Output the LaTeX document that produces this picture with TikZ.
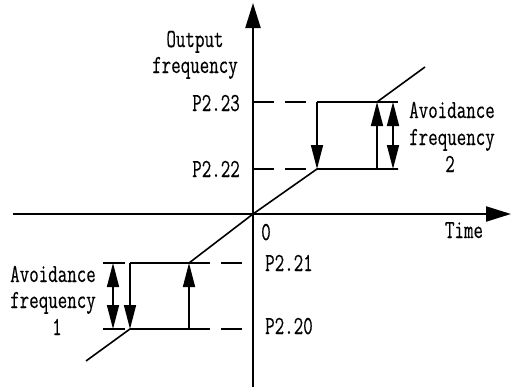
\documentclass[tikz,border=0pt]{standalone}
\usepackage{fontspec}
\setmonofont{Latin Modern Mono}[FakeStretch=0.71,FakeBold=0.3]
\usetikzlibrary{arrows.meta}
\begin{document}
\begin{tikzpicture}[x=1pt,y=-1pt,
  lbl/.style={font=\ttfamily\fontsize{26}{26}\selectfont, inner sep=0pt},
  axis/.style={line width=2.2pt,-{Triangle[length=25pt,width=15pt]}},
  ln/.style={line width=1.6pt},
  arr/.style={line width=1.6pt,-{Triangle[length=24pt,width=12pt]}},
  darr/.style={line width=1.6pt,{Triangle[length=24pt,width=12pt]}-{Triangle[length=24pt,width=12pt]}},
  dsh/.style={line width=1.2pt,dash pattern=on 21pt off 11pt}]
\useasboundingbox (0,0) rectangle (512,388);
% axes
\coordinate (O) at (253,214);
\coordinate (yb) at (253,387);
\coordinate (yt) at (253,3);
\coordinate (xl) at (13,214);
\coordinate (xr) at (511,214);
% lower loop
\coordinate (d1) at (86,361);
\coordinate (a1) at (130,329);
\coordinate (b1) at (189,329);
\coordinate (c1) at (189,263);
\coordinate (e1) at (130,263);
\coordinate (t1a) at (103,263);
\coordinate (u1a) at (125,263);
\coordinate (t1b) at (103,329);
\coordinate (u1b) at (125,329);
\coordinate (m1a) at (113,263);
\coordinate (m1b) at (113,329);
\coordinate (q21) at (243,263);
\coordinate (q20) at (243,329);
% upper loop
\coordinate (a2) at (317,169);
\coordinate (b2) at (377,169);
\coordinate (c2) at (377,102);
\coordinate (e2) at (317,102);
\coordinate (d2) at (425,67);
\coordinate (t2a) at (398,102);
\coordinate (t2b) at (398,169);
\coordinate (m2a) at (393,102);
\coordinate (m2b) at (393,169);
\coordinate (p23) at (253,102);
\coordinate (p22) at (253,169);

% dashed guides
\draw[dsh] (p23) -- (e2);
\draw[dsh] (p22) -- (a2);
\draw[dsh] (c1) -- (q21);
\draw[dsh] (b1) -- (q20);

% characteristic
\draw[ln] (d1) -- (a1) -- (b1);
\draw[ln] (e1) -- (c1) -- (O) -- (a2) -- (t2b);
\draw[ln] (d2) -- (c2) -- (e2);
\draw[ln] (c2) -- (t2a);
\draw[ln] (t1a) -- (u1a);
\draw[ln] (t1b) -- (u1b);

% arrows
\draw[arr] (e1) -- (a1);
\draw[arr] (b1) -- (c1);
\draw[arr] (e2) -- (a2);
\draw[arr] (b2) -- (c2);
\draw[darr] (m1a) -- (m1b);
\draw[darr] (m2a) -- (m2b);

% axes
\draw[axis] (yb) -- (yt);
\draw[axis] (xl) -- (xr);

% labels
\node[lbl, anchor=base] (out1) at (195,47) {Output};
\node[lbl, anchor=base] (out2) at (195,73) {frequency};
\node[lbl, anchor=base east] (l23) at (240,111) {P2.23};
\node[lbl, anchor=base east] (l22) at (240,177) {P2.22};
\node[lbl, anchor=base west] (l21) at (265,271) {P2.21};
\node[lbl, anchor=base west] (l20) at (265,334) {P2.20};
\node[lbl, anchor=base] (zero) at (266,240) {0};
\node[lbl, anchor=base] (time) at (464,238) {Time};
\node[lbl, anchor=base] (av2a) at (452,118) {Avoidance};
\node[lbl, anchor=base] (av2b) at (452,145) {frequency};
\node[lbl, anchor=base] (av2c) at (450,172) {2};
\node[lbl, anchor=base] (av1a) at (53,282) {Avoidance};
\node[lbl, anchor=base] (av1b) at (53,308) {frequency};
\node[lbl, anchor=base] (av1c) at (57,335) {1};
\end{tikzpicture}
\end{document}
